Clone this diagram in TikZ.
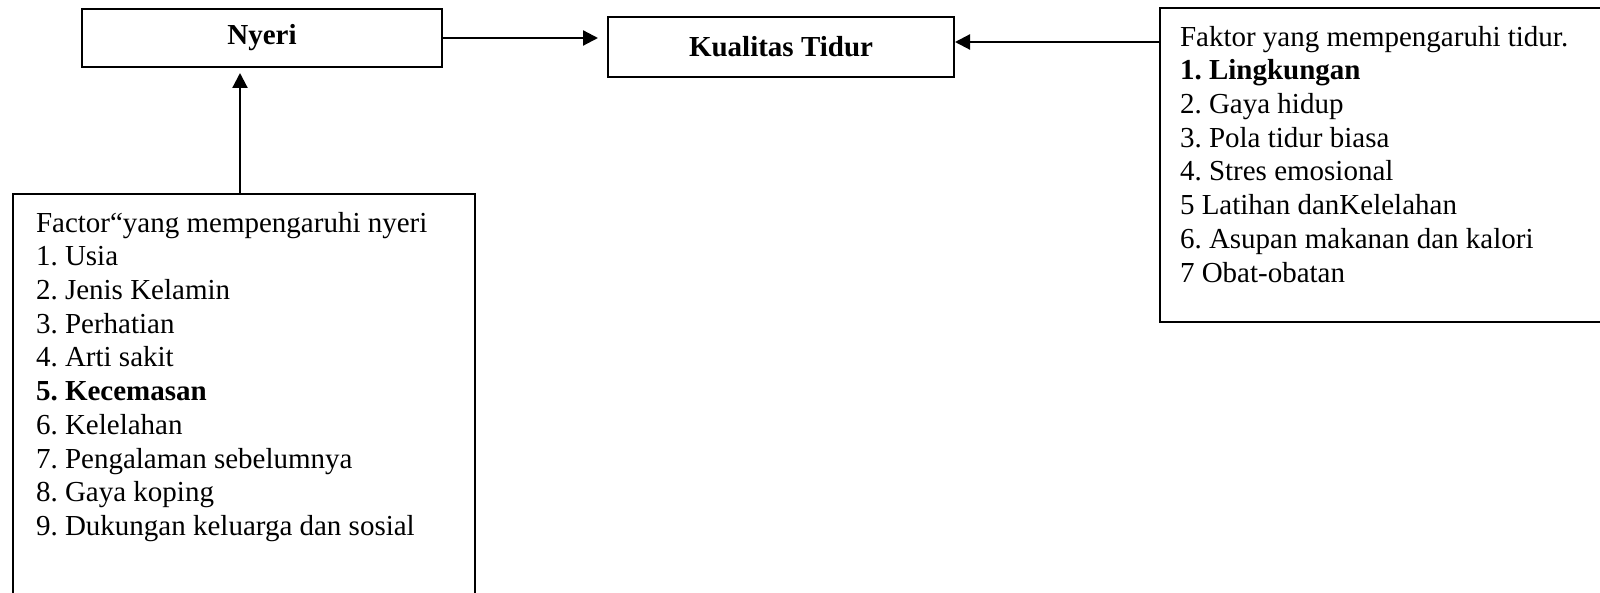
\documentclass[tikz,border=0pt]{standalone}
\usepackage{fontspec}
\setmainfont{Liberation Serif}
\frenchspacing
\usetikzlibrary{arrows.meta}

\begin{document}
\begin{tikzpicture}[x=0.5pt, y=-0.5pt,
    box/.style={draw, line width=1pt, font=\fontsize{14.5}{16.85}\selectfont\bfseries},
    daftar/.style={draw, line width=1pt, anchor=north west, inner xsep=#1, inner ysep=9pt,
        font=\fontsize{14.5}{16.85}\selectfont},
    panah/.style={line width=1.1pt, -{Triangle[length=7.5pt, width=7.5pt]}}]
    \useasboundingbox (0,0) rectangle (1600,593);

    % kotak utama
    \node[box, minimum width=180pt, minimum height=29pt] (nyeri) at (262,38) {Nyeri};
    \node[box, minimum width=173pt, minimum height=30pt] (kualitas) at (781,47) {Kualitas Tidur};

    % faktor tidur
    \node[daftar=10pt] (faktortidur) at (1159,7) {%
        \begin{minipage}[t][139pt][t]{210pt}
            Faktor yang mempengaruhi tidur.\\
            \textbf{1. Lingkungan}\\
            2. Gaya hidup\\
            3. Pola tidur biasa\\
            4. Stres emosional\\
            5 Latihan danKelelahan\\
            6. Asupan makanan dan kalori\\
            7 Obat-obatan
        \end{minipage}};

    % faktor nyeri
    \node[daftar=11.5pt] (faktornyeri) at (12,193) {%
        \begin{minipage}[t][200pt][t]{208pt}
            Factor“yang mempengaruhi nyeri\\
            1. Usia\\
            2. Jenis Kelamin\\
            3. Perhatian\\
            4. Arti sakit\\
            \textbf{5. Kecemasan}\\
            6. Kelelahan\\
            7. Pengalaman sebelumnya\\
            8. Gaya koping\\
            9. Dukungan keluarga dan sosial
        \end{minipage}};

    % panah
    \draw[panah, shorten >=4.5pt] (nyeri.east) -- (nyeri.east -| kualitas.west);
    \coordinate (masuk) at ([yshift=-17.5pt]faktortidur.north west);
    \draw[panah] (masuk) -- (masuk -| kualitas.east);
    \coordinate (naik) at ([xshift=114pt]faktornyeri.north west);
    \draw[panah, shorten >=2.5pt] (naik) -- (naik |- nyeri.south);
\end{tikzpicture}
\end{document}
